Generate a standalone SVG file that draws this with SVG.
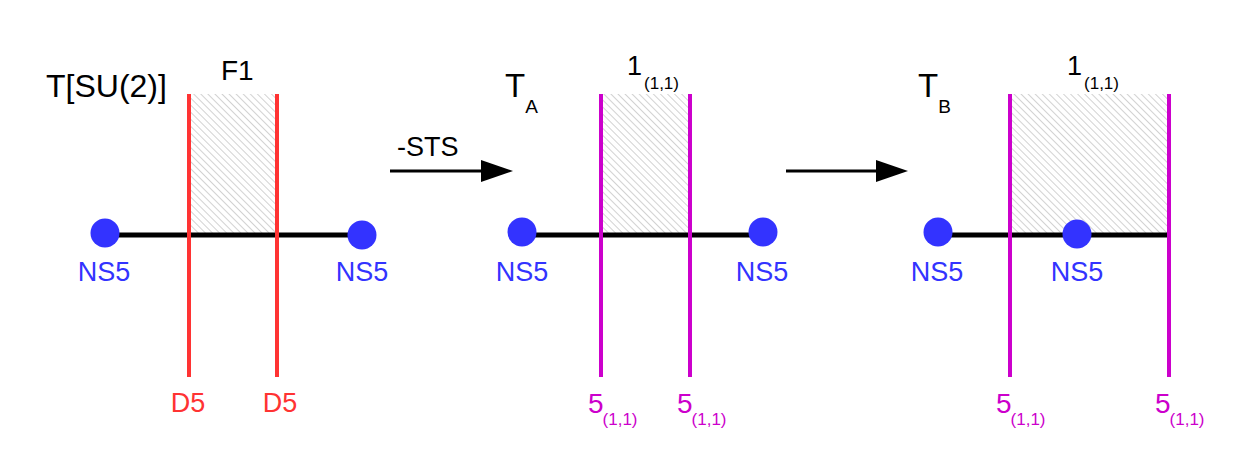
<svg xmlns="http://www.w3.org/2000/svg" width="1240" height="473" viewBox="0 0 1240 473">
<style>
text{font-family:"Liberation Sans",Arial,sans-serif;}
.lbl{fill:#000;}
.ns{font-size:27px;fill:#3333ff;text-anchor:middle;}
.d5{font-size:27px;fill:#ff3333;text-anchor:middle;}
.m{fill:#cc00cc;}
.dot{fill:#3333ff;}
.bar{stroke:#000;stroke-width:5;}
.red{stroke:#ff3333;stroke-width:4;}
.mag{stroke:#cc00cc;stroke-width:4;}
.arr{stroke:#000;stroke-width:3;fill:none;}
</style>
<defs>
<pattern id="hatch" patternUnits="userSpaceOnUse" width="5" height="6" patternTransform="rotate(-45)">
<line x1="0" y1="0" x2="0" y2="6" stroke="#a6a6a6" stroke-width="1"/>
</pattern>
</defs>
<rect width="1240" height="473" fill="#fff"/>

<g id="panel1">
<rect x="189" y="94" width="88" height="141" fill="url(#hatch)"/>
<line class="bar" x1="105" y1="235" x2="362" y2="235"/>
<line class="red" x1="189" y1="94" x2="189" y2="377"/>
<line class="red" x1="277" y1="94" x2="277" y2="377"/>
<circle class="dot" cx="105" cy="233" r="14.5"/>
<circle class="dot" cx="362" cy="235" r="14.5"/>
<text class="lbl" x="46" y="97" font-size="32">T[SU(2)]</text>
<text class="lbl" x="221" y="80" font-size="28">F1</text>
<text class="ns" x="104" y="281">NS5</text>
<text class="ns" x="362" y="281">NS5</text>
<text class="d5" x="188" y="412">D5</text>
<text class="d5" x="280" y="412">D5</text>
</g>

<g id="panel2">
<rect x="601" y="94" width="89" height="141" fill="url(#hatch)"/>
<line class="bar" x1="520" y1="235" x2="763" y2="235"/>
<line class="mag" x1="601" y1="94" x2="601" y2="377"/>
<line class="mag" x1="690" y1="94" x2="690" y2="377"/>
<circle class="dot" cx="522" cy="232" r="14.5"/>
<circle class="dot" cx="763" cy="232" r="14.5"/>
<text class="lbl" x="505" y="97" font-size="33">T<tspan font-size="19" dx="0" dy="16">A</tspan></text>
<text class="lbl" x="627" y="75" font-size="27">1<tspan font-size="17" dx="2" dy="14">(1,1)</tspan></text>
<text class="ns" x="522" y="281">NS5</text>
<text class="ns" x="762" y="281">NS5</text>
<text class="m" x="588" y="413" font-size="28">5<tspan font-size="17" dx="-1" dy="12">(1,1)</tspan></text>
<text class="m" x="677" y="413" font-size="28">5<tspan font-size="17" dx="-1" dy="12">(1,1)</tspan></text>
</g>

<g id="panel3">
<rect x="1010" y="94" width="159" height="141" fill="url(#hatch)"/>
<line class="bar" x1="938" y1="235" x2="1169" y2="235"/>
<line class="mag" x1="1010" y1="94" x2="1010" y2="377"/>
<line class="mag" x1="1169" y1="94" x2="1169" y2="377"/>
<circle class="dot" cx="938" cy="232" r="14.5"/>
<circle class="dot" cx="1077" cy="234" r="14.5"/>
<text class="lbl" x="918" y="97" font-size="33">T<tspan font-size="19" dx="0" dy="16">B</tspan></text>
<text class="lbl" x="1067" y="75" font-size="27">1<tspan font-size="17" dx="2" dy="14">(1,1)</tspan></text>
<text class="ns" x="937" y="281">NS5</text>
<text class="ns" x="1077" y="281">NS5</text>
<text class="m" x="996" y="413" font-size="28">5<tspan font-size="17" dx="-1" dy="12">(1,1)</tspan></text>
<text class="m" x="1155" y="413" font-size="28">5<tspan font-size="17" dx="-1" dy="12">(1,1)</tspan></text>
</g>

<g id="connectors">
<line class="arr" x1="390" y1="171" x2="482" y2="171"/>
<path d="M481,160 L513,171 L481,182 z" fill="#000"/>
<text class="lbl" x="397" y="156" font-size="27">-STS</text>
<line class="arr" x1="786" y1="171" x2="877" y2="171"/>
<path d="M876,160 L908,171 L876,182 z" fill="#000"/>
</g>
</svg>
